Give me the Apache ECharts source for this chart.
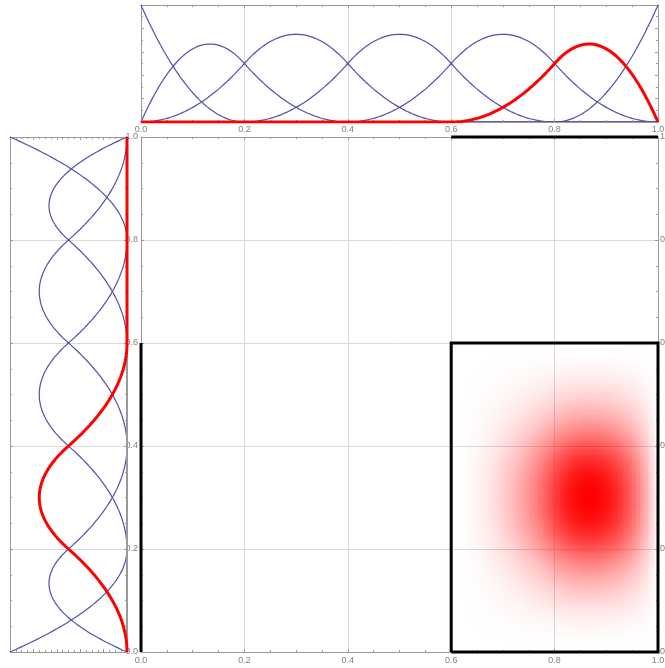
<!DOCTYPE html>
<html>
<head>
<meta charset="utf-8">
<script src="https://cdn.jsdelivr.net/npm/echarts@6/dist/echarts.min.js"></script>
<style>
  html, body { margin: 0; padding: 0; background: #ffffff; }
  #chart { width: 665px; height: 668px; }
</style>
</head>
<body>
<div id="chart"></div>
<script>
// Quadratic B-spline basis on a clamped, uniform knot vector.
const knots = [0, 0, 0, 0.2, 0.4, 0.6, 0.8, 1, 1, 1];
const degree = 2;
// Basis function highlighted along x (top panel) and along y (left panel).
const highlightX = 5;
const highlightY = 2;
// Axis ticks and their labels.
const tickValues = [0, 0.2, 0.4, 0.6, 0.8, 1.0];
const tickLabels = ['0.0', '0.2', '0.4', '0.6', '0.8', '1.0'];

const sampleStep = 0.0025;  // curve sampling step
const cellStep = 0.005;     // tensor-product density cell size

const BLUE = '#5050aa';
const RED = '#ff0000';
const FRAME = '#9a9a9a';
const GRID = '#d9d9d9';
const LABEL = '#7f7f7f';
const FONT = 'Liberation Sans, Arial, sans-serif';

const lastKnot = knots[knots.length - 1];

// Cox–de Boor recursion
function basis(i, p, t) {
  if (p === 0) {
    const a = knots[i], b = knots[i + 1];
    if (a === b) return 0;
    if (t >= a && t < b) return 1;
    if (t === lastKnot && b === lastKnot) return 1;
    return 0;
  }
  let v = 0;
  const d1 = knots[i + p] - knots[i];
  if (d1 > 0) v += (t - knots[i]) / d1 * basis(i, p - 1, t);
  const d2 = knots[i + p + 1] - knots[i + 1];
  if (d2 > 0) v += (knots[i + p + 1] - t) / d2 * basis(i + 1, p - 1, t);
  return v;
}

const nBasis = knots.length - degree - 1;
const samples = [];
for (let k = 0; k * sampleStep <= 1 + 1e-9; k++) samples.push(+(k * sampleStep).toFixed(6));

function labelOf(v) {
  const idx = tickValues.findIndex(t => Math.abs(t - v) < 1e-9);
  return idx >= 0 ? tickLabels[idx] : '';
}

function frameAxis(o) {
  return Object.assign({
    type: 'value',
    min: 0,
    max: 1,
    interval: 0.2,
    axisLine: { show: true, onZero: false, lineStyle: { color: FRAME, width: o.lineWidth || 1 } },
    axisTick: { show: true, inside: true, length: 3, lineStyle: { color: FRAME } },
    minorTick: { show: true, splitNumber: o.minor || 4, length: 2, lineStyle: { color: FRAME } },
    axisLabel: { show: false },
    splitLine: { show: false, lineStyle: { color: GRID, width: 1 } },
    minorSplitLine: { show: false }
  }, o.extra || {});
}

function labels(margin, extra) {
  return Object.assign({
    show: true, margin: margin, color: LABEL, fontSize: 9, fontFamily: FONT,
    formatter: labelOf, showMinLabel: true, showMaxLabel: true
  }, extra || {});
}

const gridLines = { show: true, lineStyle: { color: GRID, width: 1 } };

const xAxes = [
  // top panel: frame line drawn above the blue curves that run along zero
  frameAxis({ extra: { gridIndex: 0, position: 'bottom', z: 10, axisLabel: labels(3) } }),
  frameAxis({ extra: { gridIndex: 0, position: 'top', splitLine: gridLines } }),
  // left panel (values grow to the left)
  frameAxis({ extra: { gridIndex: 1, position: 'bottom', inverse: true } }),
  frameAxis({ extra: { gridIndex: 1, position: 'top', inverse: true } }),
  // main panel
  frameAxis({ extra: { gridIndex: 2, position: 'bottom', axisLabel: labels(4), splitLine: gridLines } }),
  frameAxis({ extra: { gridIndex: 2, position: 'top' } })
];

const yAxes = [
  frameAxis({ minor: 2, extra: { gridIndex: 0, position: 'left' } }),
  frameAxis({ minor: 2, extra: { gridIndex: 0, position: 'right' } }),
  frameAxis({ extra: { gridIndex: 1, position: 'left', splitLine: gridLines } }),
  frameAxis({ lineWidth: 2, extra: { gridIndex: 1, position: 'right', z: 10 } }),
  frameAxis({ extra: { gridIndex: 2, position: 'left', axisLabel: labels(3), splitLine: gridLines } }),
  frameAxis({ extra: { gridIndex: 2, position: 'right', axisLabel: labels(2) } })
];

const series = [];

// Tensor-product density of the two highlighted basis functions
const xSupport = [knots[highlightX], knots[highlightX + degree + 1]];
const ySupport = [knots[highlightY], knots[highlightY + degree + 1]];
const cells = [];
let peak = 0;
for (let x0 = xSupport[0]; x0 < xSupport[1] - 1e-9; x0 += cellStep) {
  for (let y0 = ySupport[0]; y0 < ySupport[1] - 1e-9; y0 += cellStep) {
    const v = basis(highlightX, degree, x0 + cellStep / 2) * basis(highlightY, degree, y0 + cellStep / 2);
    if (v > peak) peak = v;
    cells.push([x0, y0, v]);
  }
}
series.push({
  type: 'custom',
  xAxisIndex: 4,
  yAxisIndex: 4,
  silent: true,
  progressive: 0,
  z: 1,
  data: cells,
  renderItem: function (params, api) {
    const x0 = api.value(0), y0 = api.value(1), v = api.value(2);
    const p0 = api.coord([x0, y0]);
    const p1 = api.coord([x0 + cellStep, y0 + cellStep]);
    const l = Math.round(p0[0]), r = Math.round(p1[0]);
    const b = Math.round(p0[1]), t = Math.round(p1[1]);
    return {
      type: 'rect',
      shape: { x: l, y: t, width: r - l, height: b - t },
      style: { fill: 'rgba(255,0,0,' + (v / peak).toFixed(4) + ')' }
    };
  }
});

// Support outline and its projections onto the frame
const blackLine = { color: '#000000', width: 3, join: 'miter' };
series.push({
  type: 'line', xAxisIndex: 4, yAxisIndex: 4, clip: false, showSymbol: false, silent: true, z: 5,
  lineStyle: blackLine,
  data: [[xSupport[0], ySupport[0]], [xSupport[1], ySupport[0]], [xSupport[1], ySupport[1]], [xSupport[0], ySupport[1]], [xSupport[0], ySupport[0]]]
});
series.push({
  type: 'line', xAxisIndex: 4, yAxisIndex: 4, clip: false, showSymbol: false, silent: true, z: 5,
  lineStyle: blackLine,
  data: [[xSupport[0], 1], [xSupport[1], 1]]
});
series.push({
  type: 'line', xAxisIndex: 4, yAxisIndex: 4, clip: false, showSymbol: false, silent: true, z: 5,
  lineStyle: blackLine,
  data: [[0, ySupport[0]], [0, ySupport[1]]]
});

// Basis curves: top panel over x, left panel over y
function curve(i, horizontal) {
  const hi = horizontal ? i === highlightX : i === highlightY;
  return {
    type: 'line',
    xAxisIndex: horizontal ? 0 : 2,
    yAxisIndex: horizontal ? 0 : 2,
    showSymbol: false,
    silent: true,
    clip: true,
    z: hi ? 12 : 3,
    lineStyle: { color: hi ? RED : BLUE, width: hi ? 3 : 1.2 },
    data: samples.map(t => horizontal ? [t, basis(i, degree, t)] : [basis(i, degree, t), t])
  };
}
for (let i = 0; i < nBasis; i++) if (i !== highlightX) series.push(curve(i, true));
series.push(curve(highlightX, true));
for (let i = 0; i < nBasis; i++) if (i !== highlightY) series.push(curve(i, false));
series.push(curve(highlightY, false));

const chart = echarts.init(document.getElementById('chart'), null, { renderer: 'canvas' });
chart.setOption({
  animation: false,
  backgroundColor: '#ffffff',
  grid: [
    { left: 141, top: 5, width: 517, height: 117, outerBoundsMode: 'none' },
    { left: 10, top: 137, width: 117, height: 515, outerBoundsMode: 'none' },
    { left: 141, top: 137, width: 517, height: 515, outerBoundsMode: 'none' }
  ],
  xAxis: xAxes,
  yAxis: yAxes,
  series: series
});
</script>
</body>
</html>
